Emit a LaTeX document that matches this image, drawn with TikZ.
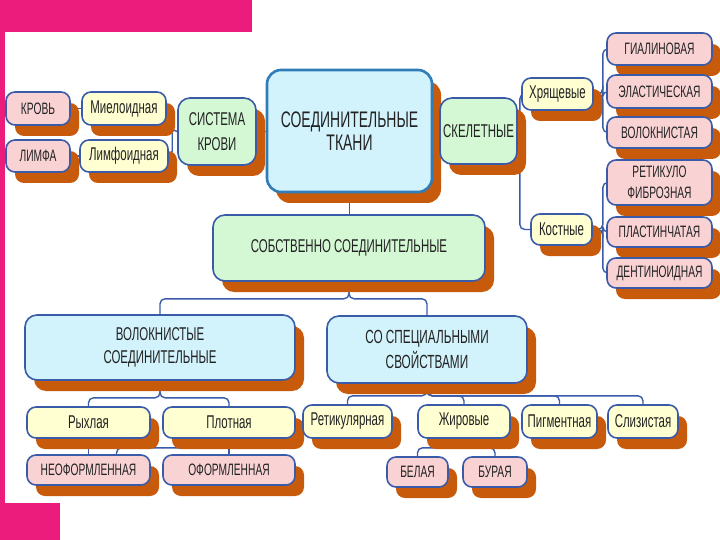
\documentclass[tikz,border=0pt]{standalone}
\usepackage{fontspec}
\setmainfont{Liberation Sans}[FakeStretch=0.62]
\usetikzlibrary{shadows,backgrounds}
\definecolor{pinkbar}{HTML}{EC1C7C}
\definecolor{fpink}{HTML}{F9D2D4}
\definecolor{fyel}{HTML}{FFFFD2}
\definecolor{fgreen}{HTML}{D4F7D4}
\definecolor{fblue}{HTML}{D2F2FC}
\definecolor{shad}{HTML}{C85A0C}
\definecolor{bord}{HTML}{3A5CA8}
\definecolor{txt}{HTML}{222222}
\tikzset{
 box/.style={draw=bord, line width=1.6pt, rounded corners=9pt, text=txt, align=center, inner sep=0pt,
   drop shadow={shadow xshift=9pt, shadow yshift=-11pt, fill=shad, opacity=1}},
 pk/.style={box, fill=fpink, font=\fontsize{16.5}{21}\selectfont},
 yl/.style={box, fill=fyel, font=\fontsize{18.5}{21}\selectfont},
 gr/.style={box, fill=fgreen, font=\fontsize{18.5}{25}\selectfont, rounded corners=12pt},
 bl/.style={box, fill=fblue, font=\fontsize{18.5}{23}\selectfont, rounded corners=12pt},
 mainbox/.style={box, fill=fblue, draw=bord!80!cyan, line width=2.6pt, rounded corners=14pt, font=\fontsize{22.5}{23}\selectfont},
 conn/.style={draw=bord, line width=1.4pt, rounded corners=5pt},
}
\begin{document}
\begin{tikzpicture}[x=1pt,y=-1pt]
\useasboundingbox (0,0) rectangle (720,540);
\fill[pinkbar] (0,0) rectangle (252,32);
\fill[pinkbar] (0,32) rectangle (5,503);
\fill[pinkbar] (0,503) rectangle (60,540);

% top left
\node[pk, minimum width=64, minimum height=33] (krov) at (38,108.5) {КРОВЬ};
\node[yl, minimum width=84, minimum height=33] (miel) at (124,108.5) {Миелоидная};
\node[pk, minimum width=64, minimum height=32] (limfa) at (38,156) {ЛИМФА};
\node[yl, minimum width=88, minimum height=32] (limfo) at (124,156) {Лимфоидная};
\node[gr, minimum width=78, minimum height=67] (sist) at (217,131.5) {СИСТЕМА\\КРОВИ};
\node[mainbox, minimum width=165, minimum height=122] (main) at (349.5,131) {СОЕДИНИТЕЛЬНЫЕ\\ТКАНИ};
\node[gr, minimum width=77, minimum height=66] (skel) at (478.5,131) {СКЕЛЕТНЫЕ};
\node[yl, minimum width=71, minimum height=32] (khr) at (557.5,94) {Хрящевые};
\node[yl, minimum width=61, minimum height=31] (kost) at (561.5,229.5) {Костные};

% right column
\node[pk, minimum width=105, minimum height=32] (gial) at (659.5,49) {ГИАЛИНОВАЯ};
\node[pk, minimum width=105, minimum height=33] (elast) at (659.5,91.5) {ЭЛАСТИЧЕСКАЯ};
\node[pk, minimum width=105, minimum height=31] (volok) at (659.5,132.5) {ВОЛОКНИСТАЯ};
\node[pk, minimum width=105, minimum height=45] (retfib) at (659.5,182.5) {РЕТИКУЛО\\ФИБРОЗНАЯ};
\node[pk, minimum width=105, minimum height=30] (plast) at (659.5,232) {ПЛАСТИНЧАТАЯ};
\node[pk, minimum width=105, minimum height=30] (dent) at (659.5,273) {ДЕНТИНОИДНАЯ};

% middle
\node[gr, minimum width=272, minimum height=66] (sobs) at (349,248) {СОБСТВЕННО СОЕДИНИТЕЛЬНЫЕ};
\node[bl, minimum width=270, minimum height=65] (volk) at (160,347.5) {ВОЛОКНИСТЫЕ\\СОЕДИНИТЕЛЬНЫЕ};
\node[bl, minimum width=200, minimum height=67, font=\fontsize{19}{25}\selectfont] (spec) at (427,349.5) {СО СПЕЦИАЛЬНЫМИ\\СВОЙСТВАМИ};

% bottom rows
\node[yl, minimum width=123, minimum height=31] (ryx) at (88.5,422.5) {Рыхлая};
\node[yl, minimum width=132, minimum height=31] (plot) at (229,422.5) {Плотная};
\node[yl, minimum width=89, minimum height=33] (retik) at (347.5,421.5) {Ретикулярная};
\node[yl, minimum width=92, minimum height=33] (zhir) at (464,421.5) {Жировые};
\node[yl, minimum width=75, minimum height=33] (pigm) at (559.5,421.5) {Пигментная};
\node[yl, minimum width=70, minimum height=33] (sliz) at (643,421.5) {Слизистая};
\node[pk, minimum width=123, minimum height=30] (neo) at (88.5,470) {НЕОФОРМЛЕННАЯ};
\node[pk, minimum width=132, minimum height=30] (ofo) at (229,470) {ОФОРМЛЕННАЯ};
\node[pk, minimum width=61, minimum height=30] (bel) at (417.5,472) {БЕЛАЯ};
\node[pk, minimum width=64, minimum height=30] (bur) at (495,472) {БУРАЯ};

\begin{pgfonlayer}{background}
\fill[white] (0,0) rectangle (720,540);
\draw[conn] (krov) -- (miel);
\draw[conn] (limfa) -- (limfo);
\draw[conn] (miel.east) -| ([xshift=-5pt]sist.west) -- (sist.west);
\draw[conn] (limfo.east) -| ([xshift=-5pt]sist.west);
\draw[conn] (sist) -- (main);
\draw[conn] (main) -- (skel);
\draw[conn] (khr.west) -| ([xshift=2pt]skel.east) |- (kost.west);
\draw[conn] (khr.east) -- ++(9,0) |- (gial.west);
\draw[conn] (khr.east) -- ++(9,0) |- (elast.west);
\draw[conn] (khr.east) -- ++(9,0) |- (volok.west);
\draw[conn] (kost.east) -- ++(10,0) |- (retfib.west);
\draw[conn] (kost.east) -- ++(10,0) |- (plast.west);
\draw[conn] (kost.east) -- ++(10,0) |- (dent.west);
\draw[conn] (main.south) -- (main.south |- sobs.north);
\draw[conn] (sobs.south) -- ++(0,17) -| (volk.north);
\draw[conn] (sobs.south) -- ++(0,17) -| (spec.north);
\draw[conn] (volk.south) -- ++(0,17) -| (ryx.north);
\draw[conn] (volk.south) -- ++(0,17) -| (plot.north);
\draw[conn] (ryx) -- (neo);
\draw[conn] (plot) -- (ofo);
\draw[conn] (plot.south) -- ++(0,9) -| ([xshift=28pt]neo.north);
\draw[conn] (spec.south) -- ++(0,12) -| (retik.north);
\draw[conn] (spec.south) -- ++(0,12) -| (zhir.north);
\draw[conn] (spec.south) -- ++(0,12) -| (pigm.north);
\draw[conn] (spec.south) -- ++(0,12) -| (sliz.north);
\draw[conn] (zhir.south) -- ++(0,9) -| (bel.north);
\draw[conn] (zhir.south) -- ++(0,9) -| (bur.north);
\end{pgfonlayer}
\end{tikzpicture}
\end{document}
